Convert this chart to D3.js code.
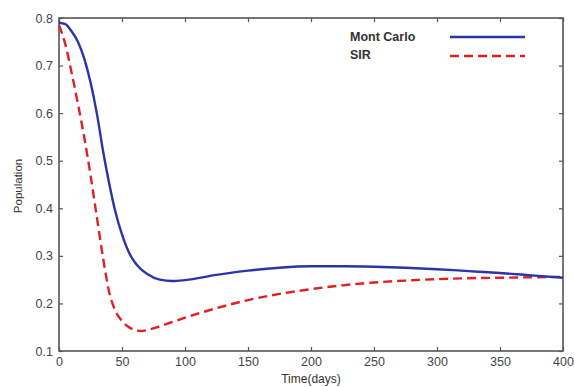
<!DOCTYPE html>
<html>
<head>
<meta charset="utf-8">
<script src="https://cdn.jsdelivr.net/npm/d3@7"></script>
<style>
  body { margin: 0; background: #fff; }
  text { font-family: "Liberation Sans", Arial, sans-serif; }
</style>
</head>
<body>
<div id="chart"></div>
<script>
// data
var days = [0, 5, 10, 15, 20, 25, 30, 35, 40, 45, 50, 55, 60, 65, 70, 80, 90, 100, 125, 150, 175, 200, 225, 250, 275, 300, 325, 350, 375, 400];
var monteCarlo = [0.79, 0.787, 0.772, 0.75, 0.715, 0.665, 0.6, 0.52, 0.45, 0.39, 0.345, 0.31, 0.287, 0.272, 0.262, 0.25, 0.247, 0.249, 0.26, 0.269, 0.275, 0.278, 0.278, 0.277, 0.275, 0.272, 0.268, 0.264, 0.259, 0.254];
var sir = [0.785, 0.745, 0.685, 0.62, 0.55, 0.47, 0.382, 0.295, 0.222, 0.183, 0.163, 0.151, 0.144, 0.142, 0.144, 0.152, 0.161, 0.17, 0.19, 0.207, 0.22, 0.23, 0.238, 0.244, 0.248, 0.251, 0.253, 0.254, 0.255, 0.256];
var xTicks = [0, 50, 100, 150, 200, 250, 300, 350, 400];
var yTicks = [0.1, 0.2, 0.3, 0.4, 0.5, 0.6, 0.7, 0.8];
var seriesNames = ["Mont Carlo", "SIR"];

var margin = { top: 18, right: 12, bottom: 36, left: 59 };
var svg_Width = 575, svg_Height = 387;
var chart_Width = svg_Width - margin.left - margin.right;
var chart_Height = svg_Height - margin.top - margin.bottom;

var svg = d3.select("#chart").append("svg")
  .attr("width", svg_Width)
  .attr("height", svg_Height)
  .append("g")
  .attr("transform", "translate(" + margin.left + "," + margin.top + ")");

var x = d3.scaleLinear().domain([0, 400]).range([0, chart_Width]);
var y = d3.scaleLinear().domain([0.1, 0.8]).range([chart_Height, 0]);

var axisColor = "#555";

// matlab-style inward ticks on all sides
var bottomAxis = d3.axisBottom(x).tickValues(xTicks).tickSize(-4).tickPadding(6).tickFormat(d3.format("d"));
var leftAxis = d3.axisLeft(y).tickValues(yTicks).tickSize(-4).tickPadding(6).tickFormat(d3.format(".1f"));
var topAxis = d3.axisTop(x).tickValues(xTicks).tickSize(-4).tickFormat("");
var rightAxis = d3.axisRight(y).tickValues(yTicks).tickSize(-4).tickFormat("");

function styleAxis(g) {
  g.select(".domain").remove();
  g.selectAll("line").attr("stroke", axisColor).attr("stroke-width", 1.2);
  g.selectAll("text").attr("fill", "#444").style("font-size", "12.5px");
}

svg.append("g").attr("transform", "translate(0," + chart_Height + ")").call(bottomAxis).call(styleAxis);
svg.append("g").call(leftAxis).call(styleAxis);
svg.append("g").call(topAxis).call(styleAxis);
svg.append("g").attr("transform", "translate(" + chart_Width + ",0)").call(rightAxis).call(styleAxis);

svg.append("rect")
  .attr("width", chart_Width)
  .attr("height", chart_Height)
  .attr("fill", "none")
  .attr("stroke", axisColor)
  .attr("stroke-width", 1.6);

var line = d3.line()
  .x(function(d) { return x(d[0]); })
  .y(function(d) { return y(d[1]); })
  .curve(d3.curveMonotoneX);

svg.append("path")
  .datum(days.map(function(d, i) { return [d, sir[i]]; }))
  .attr("d", line)
  .attr("fill", "none")
  .attr("stroke", "#e02020")
  .attr("stroke-width", 2.4)
  .attr("stroke-dasharray", "9,5");

svg.append("path")
  .datum(days.map(function(d, i) { return [d, monteCarlo[i]]; }))
  .attr("d", line)
  .attr("fill", "none")
  .attr("stroke", "#2a35a8")
  .attr("stroke-width", 2.4);

// legend
var legend = svg.append("g").attr("transform", "translate(" + (350 - margin.left) + "," + (37 - margin.top) + ")");
legend.append("text").attr("x", 0).attr("y", 4).text(seriesNames[0])
  .style("font-size", "12.5px").style("font-weight", "bold").attr("fill", "#333");
legend.append("text").attr("x", 0).attr("y", 22).text(seriesNames[1])
  .style("font-size", "12.5px").style("font-weight", "bold").attr("fill", "#333");
legend.append("line").attr("x1", 100).attr("x2", 175).attr("y1", 0).attr("y2", 0)
  .attr("stroke", "#2a35a8").attr("stroke-width", 2.4);
legend.append("line").attr("x1", 100).attr("x2", 175).attr("y1", 19).attr("y2", 19)
  .attr("stroke", "#e02020").attr("stroke-width", 2.4).attr("stroke-dasharray", "9,5");

// axis titles
svg.append("text")
  .attr("transform", "rotate(-90)")
  .attr("x", -168)
  .attr("y", -37)
  .attr("text-anchor", "middle")
  .attr("fill", "#333")
  .style("font-size", "11.5px")
  .text("Population");

svg.append("text")
  .attr("x", x(200))
  .attr("y", chart_Height + 32)
  .attr("text-anchor", "middle")
  .attr("fill", "#333")
  .style("font-size", "12px")
  .text("Time(days)");
</script>
</body>
</html>
